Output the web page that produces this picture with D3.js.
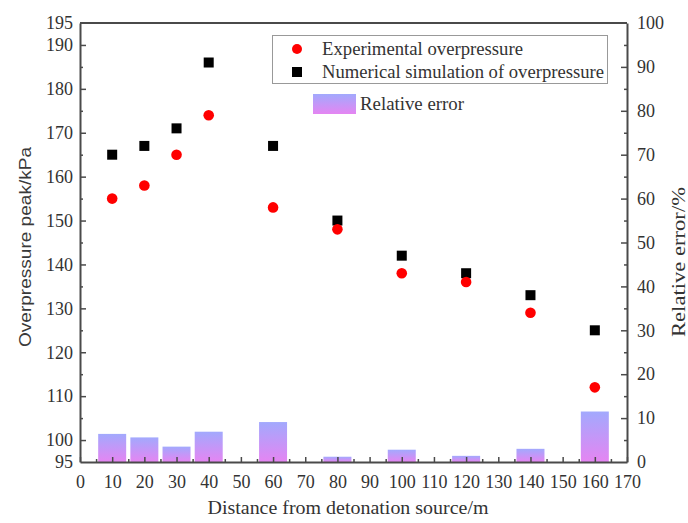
<!DOCTYPE html>
<html>
<head>
<meta charset="utf-8">
<script src="https://cdn.jsdelivr.net/npm/d3@7"></script>
<style>
  html, body { margin: 0; padding: 0; background: #fff; }
  svg { display: block; }
  text { font-family: "Liberation Serif", "Times New Roman", serif; fill: #333; }
  text.sans { font-family: "Liberation Sans", Arial, sans-serif; fill: #3a3a3a; }
</style>
</head>
<body>
<svg id="chart" width="688" height="523"></svg>
<script>
// Distances from the detonation source (m)
const distances = [10, 20, 30, 40, 60, 80, 100, 120, 140, 160];
// Measured overpressure peaks (kPa)
const experimental = [155, 158, 165, 174, 153, 148, 138, 136, 129, 112];
// Simulated overpressure peaks (kPa)
const numerical = [165, 167, 171, 186, 167, 150, 142, 138, 133, 125];
// Relative error between the two (%)
const relativeError = [6.4, 5.6, 3.5, 6.9, 9.1, 1.2, 2.8, 1.4, 3.0, 11.5];

const xTicks = d3.range(0, 171, 10);
const yLeftTicks = [95, 100, 110, 120, 130, 140, 150, 160, 170, 180, 190, 195];
const yLeftMinor = d3.range(105, 190, 10);
const yRightTicks = d3.range(0, 101, 10);
const yRightMinor = d3.range(5, 100, 10);
const xMinor = d3.range(5, 170, 10);

const svg = d3.select("#chart");
const m = { left: 80, right: 61, top: 23, bottom: 61 };
const W = 688, H = 523;
const x = d3.scaleLinear().domain([0, 170]).range([m.left, W - m.right]);
const yL = d3.scaleLinear().domain([95, 195]).range([H - m.bottom, m.top]);
const yR = d3.scaleLinear().domain([0, 100]).range([H - m.bottom, m.top]);

const defs = svg.append("defs");
const grad = defs.append("linearGradient").attr("id", "errGrad")
  .attr("x1", 0).attr("y1", 0).attr("x2", 0).attr("y2", 1);
grad.append("stop").attr("offset", "0%").attr("stop-color", "#a2a9fd");
grad.append("stop").attr("offset", "100%").attr("stop-color", "#e585f2");

// Relative error bars (right axis)
const barHalf = 4.35;
svg.append("g").selectAll("rect").data(distances).join("rect")
  .attr("x", d => x(d - barHalf))
  .attr("width", d => x(d + barHalf) - x(d - barHalf))
  .attr("y", (d, i) => yR(relativeError[i]))
  .attr("height", (d, i) => yR(0) - yR(relativeError[i]))
  .attr("fill", "url(#errGrad)");

const axisColor = "#4a4a4a";
const tickFont = 18;

// Bottom axis with inward ticks
const gx = svg.append("g").attr("transform", `translate(0,${H - m.bottom})`)
  .call(d3.axisBottom(x).tickValues(xTicks).tickSizeInner(-5).tickSizeOuter(0).tickPadding(13));
gx.selectAll(".tick line").attr("stroke", axisColor).attr("stroke-width", 1.5);
svg.append("g").attr("transform", `translate(0,${H - m.bottom})`)
  .call(d3.axisBottom(x).tickValues(xMinor).tickSize(-3).tickFormat(""))
  .call(g => g.select(".domain").remove())
  .selectAll("line").attr("stroke", axisColor).attr("stroke-width", 1.5);

// Left axis
const gl = svg.append("g").attr("transform", `translate(${m.left},0)`)
  .call(d3.axisLeft(yL).tickValues(yLeftTicks).tickSizeInner(-6).tickSizeOuter(0).tickPadding(7));
gl.selectAll(".tick line").attr("stroke", axisColor).attr("stroke-width", 1.5)
  .filter(d => d === 95 || d === 195).remove();
svg.append("g").attr("transform", `translate(${m.left},0)`)
  .call(d3.axisLeft(yL).tickValues(yLeftMinor).tickSize(-3).tickFormat(""))
  .call(g => g.select(".domain").remove())
  .selectAll("line").attr("stroke", axisColor).attr("stroke-width", 1.5);

// Right axis
const gr = svg.append("g").attr("transform", `translate(${W - m.right},0)`)
  .call(d3.axisRight(yR).tickValues(yRightTicks).tickSizeInner(-6).tickSizeOuter(0).tickPadding(10));
gr.selectAll(".tick line").attr("stroke", axisColor).attr("stroke-width", 1.5)
  .filter(d => d === 0 || d === 100).remove();
svg.append("g").attr("transform", `translate(${W - m.right},0)`)
  .call(d3.axisRight(yR).tickValues(yRightMinor).tickSize(-3).tickFormat(""))
  .call(g => g.select(".domain").remove())
  .selectAll("line").attr("stroke", axisColor).attr("stroke-width", 1.5);

[gx, gl, gr].forEach(g => {
  g.attr("font-family", null);
  g.select(".domain").attr("stroke", axisColor).attr("stroke-width", 2);
  g.selectAll(".tick text").attr("font-size", tickFont).attr("fill", "#333");
});

// Top frame line
svg.append("line")
  .attr("x1", m.left).attr("x2", W - m.right)
  .attr("y1", m.top).attr("y2", m.top)
  .attr("stroke", axisColor).attr("stroke-width", 2);

// Numerical simulation markers
const sq = 10;
svg.append("g").selectAll("rect").data(distances).join("rect")
  .attr("x", d => x(d) - sq / 2)
  .attr("y", (d, i) => yL(numerical[i]) - sq / 2)
  .attr("width", sq).attr("height", sq)
  .attr("fill", "#000");

// Experimental markers
svg.append("g").selectAll("circle").data(distances).join("circle")
  .attr("cx", d => x(d))
  .attr("cy", (d, i) => yL(experimental[i]))
  .attr("r", 5.3)
  .attr("fill", "#ff0000");

// Axis titles
svg.append("text")
  .attr("x", 348).attr("y", 514)
  .attr("text-anchor", "middle").attr("font-size", 18)
  .attr("textLength", 281).attr("lengthAdjust", "spacingAndGlyphs")
  .text("Distance from detonation source/m");
svg.append("text").attr("class", "sans")
  .attr("transform", "translate(31,247) rotate(-90)")
  .attr("text-anchor", "middle").attr("font-size", 16)
  .attr("textLength", 200).attr("lengthAdjust", "spacingAndGlyphs")
  .text("Overpressure peak/kPa");
svg.append("text")
  .attr("transform", "translate(685,262) rotate(-90)")
  .attr("text-anchor", "middle").attr("font-size", 18)
  .attr("textLength", 150).attr("lengthAdjust", "spacingAndGlyphs")
  .text("Relative error/%");

// Legend
const lg = svg.append("g");
lg.append("rect").attr("x", 272.5).attr("y", 35.5).attr("width", 335).attr("height", 48)
  .attr("fill", "#fff").attr("stroke", "#999").attr("stroke-width", 1);
lg.append("circle").attr("cx", 297).attr("cy", 49).attr("r", 5).attr("fill", "#ff0000");
lg.append("text").attr("x", 322).attr("y", 55).attr("font-size", 18)
  .attr("textLength", 201).attr("lengthAdjust", "spacingAndGlyphs")
  .text("Experimental overpressure");
lg.append("rect").attr("x", 292).attr("y", 67).attr("width", 10).attr("height", 10).attr("fill", "#000");
lg.append("text").attr("x", 322).attr("y", 78).attr("font-size", 18)
  .attr("textLength", 282).attr("lengthAdjust", "spacingAndGlyphs")
  .text("Numerical simulation of overpressure");
lg.append("rect").attr("x", 313).attr("y", 94).attr("width", 43).attr("height", 20)
  .attr("fill", "url(#errGrad)");
lg.append("text").attr("x", 360).attr("y", 110).attr("font-size", 18)
  .attr("textLength", 104).attr("lengthAdjust", "spacingAndGlyphs")
  .text("Relative error");
</script>
</body>
</html>
